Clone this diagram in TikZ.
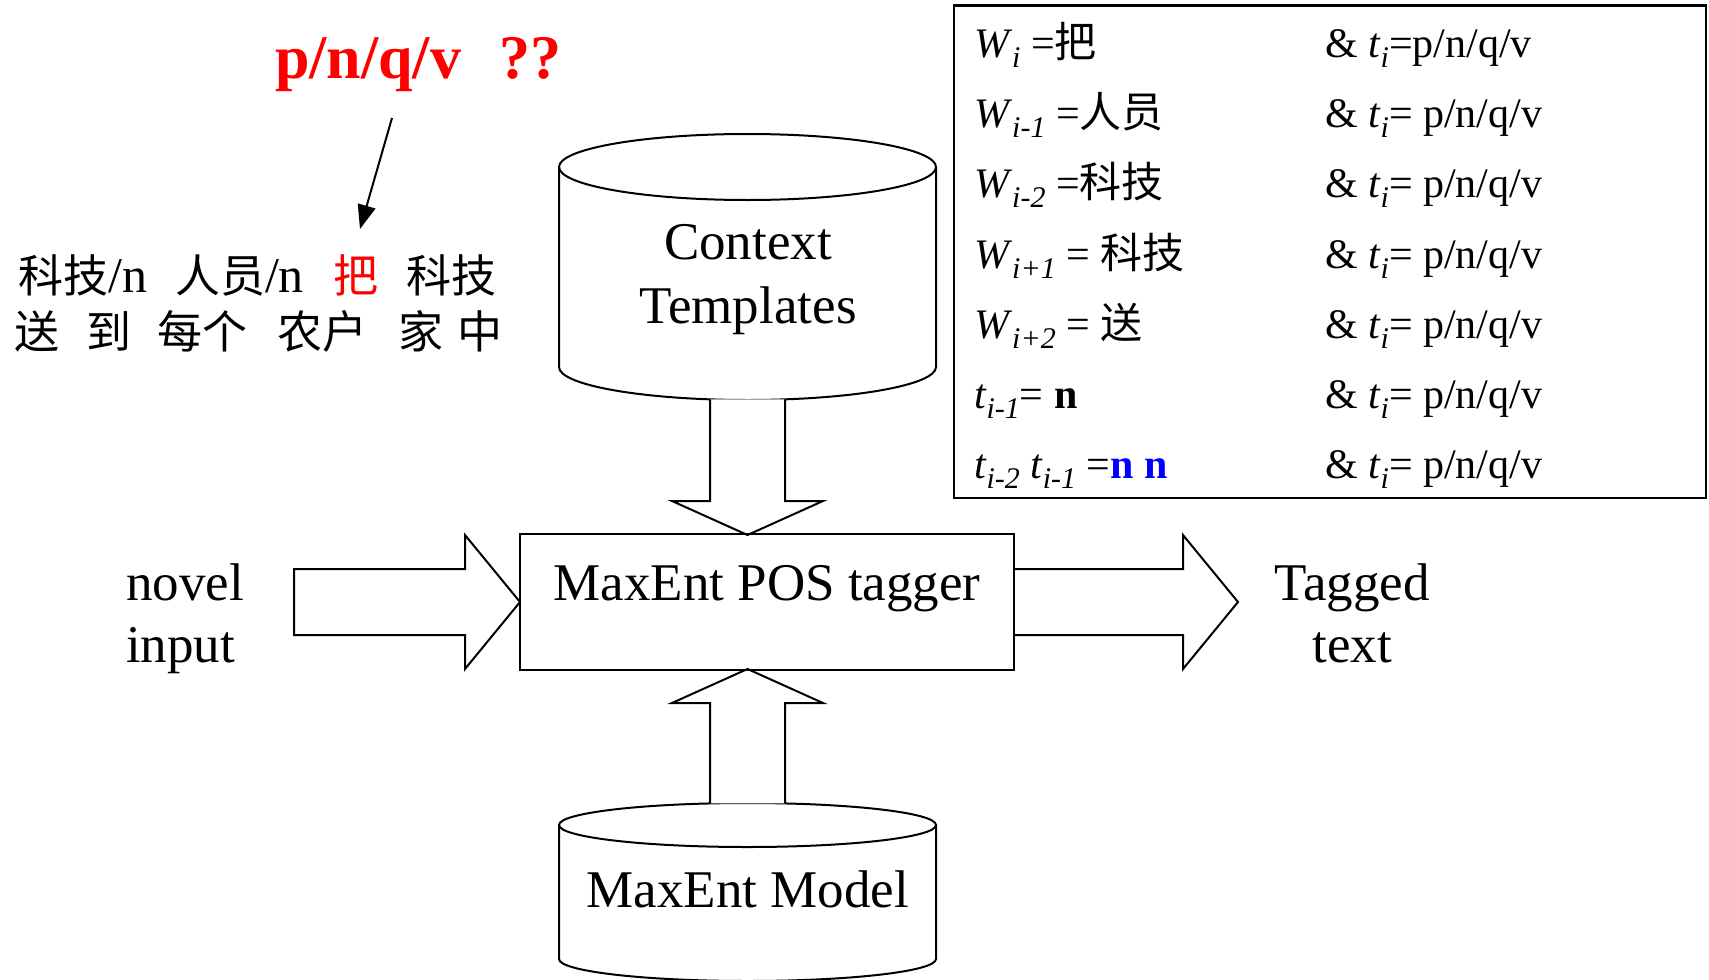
\documentclass[tikz,border=0pt]{standalone}
\usepackage{fontspec}
\setmainfont{Liberation Serif}
\newfontfamily\cjk{Noto Sans CJK SC}
\usetikzlibrary{arrows.meta}
\definecolor{redtxt}{RGB}{255,0,0}
\definecolor{bluetxt}{RGB}{0,0,255}
\newcommand{\tsub}[1]{\raisebox{-10pt}{\fontsize{30}{30}\selectfont\itshape #1}}
\newcommand{\zh}[1]{{\cjk #1}}
\newcommand{\lat}[1]{{\fontspec{Liberation Serif}\fontsize{50}{55}\selectfont #1}}
\begin{document}
\begin{tikzpicture}[x=1pt,y=-1pt,line width=2pt,line join=miter,
  big/.style={font=\fontsize{53}{60}\selectfont,inner sep=0pt,anchor=base},
  bigl/.style={font=\fontsize{53}{60}\selectfont,inner sep=0pt,anchor=base west},
  tab/.style={font=\fontsize{42}{48}\selectfont,inner sep=0pt,anchor=base west},
  zhtxt/.style={font=\fontsize{45}{50}\selectfont\cjk,inner sep=0pt,anchor=base west},
  fatarrow/.style={draw,fill=white,line width=2pt}]
\useasboundingbox (0,0) rectangle (1709,980);

% ---- red question and source sentence
\node[font=\bfseries\fontsize{62}{70}\selectfont,text=redtxt,anchor=base west,inner sep=0pt] (qtag) at (274,78) {p/n/q/v\hspace{38pt}??};
\node[zhtxt] (w1) at (18,292) {科技\lat{/n}};
\node[zhtxt] (w2) at (174,292) {人员\lat{/n}};
\node[zhtxt,text=redtxt] (ba) at (332,292) {把};
\node[zhtxt] (w4) at (405,292) {科技};
\node[zhtxt] (s1) at (13,348) {送};
\node[zhtxt] (s2) at (85,348) {到};
\node[zhtxt] (s3) at (156,348) {每个};
\node[zhtxt] (s4) at (276,348) {农户};
\node[zhtxt] (s5) at (397,348) {家};
\node[zhtxt] (s6) at (456,348) {中};
\coordinate (qs) at (392,118);
\coordinate (qe) at (360,229);
\draw[-{Triangle[length=24pt,width=18pt]}] (qs) -- (qe);

% ---- Context Templates cylinder
\draw (559,167) -- (559,367)
  .. controls (559,385.2) and (643.4,400) .. (747.5,400)
  .. controls (851.6,400) and (936,385.2) .. (936,367) -- (936,167);
\draw (747.5,167) ellipse [x radius=188.5, y radius=33];
\node[big] (ctx1) at (748,259) {Context};
\node[big] (ctx2) at (748,323) {Templates};

% ---- MaxEnt Model cylinder
\draw (559,825) -- (559,959)
  .. controls (559,971.2) and (643.4,981) .. (747.5,981)
  .. controls (851.6,981) and (936,971.2) .. (936,959) -- (936,825);
\draw (747.5,825) ellipse [x radius=188.5, y radius=22];
\node[big] (model) at (748,907) {MaxEnt Model};

% ---- tagger box
\node[inner sep=0pt,minimum width=492pt,minimum height=134pt] (tagger) at (767,602) {};

% ---- fat arrows
\draw[fatarrow] (710,399.3) -- (710,501) -- (672,501) -- (747.5,535) -- (823,501) -- (785,501) -- (785,399.3);
\draw[fatarrow] (710,803.4) -- (710,703) -- (672,703) -- (747.5,669) -- (823,703) -- (785,703) -- (785,803.4);
\draw[fatarrow] (294,569) -- (465,569) -- (465,535) -- (tagger.west) -- (465,669) -- (465,635) -- (294,635) -- cycle;
\draw[fatarrow] (tagger.east |- 0,569) -- (1183,569) -- (1183,535) -- (1238,602) -- (1183,669) -- (1183,635) -- (tagger.east |- 0,635);

\draw (tagger.north west) rectangle (tagger.south east);
\node[big] (tagtxt) at (767,600) {MaxEnt POS tagger};

\node[bigl] (in1) at (125,600) {novel};
\node[bigl] (in2) at (125,662) {input};
\node[big] (out1) at (1352,600) {Tagged};
\node[big] (out2) at (1352,662) {text};

% ---- feature table
\draw[line width=2.5pt] (954,5.5) rectangle (1706,498);
\node[tab] (l1) at (973,57) {\textit{W}\tsub{i} =\zh{把}};
\node[tab] (l2) at (973,127) {\textit{W}\tsub{i-1} =\zh{人员}};
\node[tab] (l3) at (973,197) {\textit{W}\tsub{i-2} =\zh{科技}};
\node[tab] (l4) at (973,268) {\textit{W}\tsub{i+1} = \zh{科技}};
\node[tab] (l5) at (973,338) {\textit{W}\tsub{i+2} = \zh{送}};
\node[tab] (l6) at (973,408) {\textit{t}\tsub{i-1}= \textbf{n}};
\node[tab] (l7) at (973,478) {\textit{t}\tsub{i-2} \textit{t}\tsub{i-1} =\textcolor{bluetxt}{\textbf{n n}}};
\node[tab] (r1) at (1324,57) {\& \textit{t}\tsub{i}=p/n/q/v};
\node[tab] (r2) at (1324,127) {\& \textit{t}\tsub{i}= p/n/q/v};
\node[tab] (r3) at (1324,197) {\& \textit{t}\tsub{i}= p/n/q/v};
\node[tab] (r4) at (1324,268) {\& \textit{t}\tsub{i}= p/n/q/v};
\node[tab] (r5) at (1324,338) {\& \textit{t}\tsub{i}= p/n/q/v};
\node[tab] (r6) at (1324,408) {\& \textit{t}\tsub{i}= p/n/q/v};
\node[tab] (r7) at (1324,478) {\& \textit{t}\tsub{i}= p/n/q/v};
\end{tikzpicture}
\end{document}
